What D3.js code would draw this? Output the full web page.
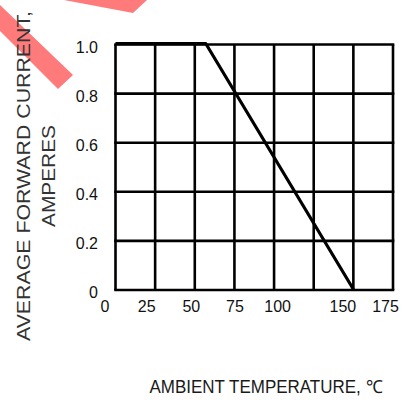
<!DOCTYPE html>
<html>
<head>
<meta charset="utf-8">
<script src="https://cdn.jsdelivr.net/npm/d3@7"></script>
<style>
  body { margin: 0; background: #fff; }
  svg { display: block; }
</style>
</head>
<body>
<svg class="derating"></svg>
<script>
// Total dimensions
var w = 404,
    h = 403;

// Data
var xGrid = [0, 25, 50, 75, 100, 125, 150, 175];
var xLabels = [0, 25, 50, 75, 100, 150, 175];
var yGrid = [0, 0.2, 0.4, 0.6, 0.8, 1.0];
var yLabels = ["0", "0.2", "0.4", "0.6", "0.8", "1.0"];
var tempC = [0, 57, 150];
var currentA = [1.0, 1.0, 0];

// label nudges (px) - the original labels sit a bit off the grid
var xLabelNudge = { 0: -11, 25: -9, 50: -4, 75: 0, 100: 3, 150: -11, 175: -8 };

var svg = d3.select(".derating")
    .attr("width", w)
    .attr("height", h);

// plot area
var plotLeft = 115.5, plotRight = 393, plotTop = 44.5, plotBottom = 290;

var xScale = d3.scaleLinear().domain([0, 175]).range([plotLeft, plotRight]);
var yScale = d3.scaleLinear().domain([0, 1]).range([plotBottom, plotTop]);

// red marks in the corner (watermark)
svg.append("polygon")
    .attr("points", "0,5 73,75 58,89 0,31")
    .attr("fill", "#ff7b7b");
svg.append("polygon")
    .attr("points", "64,0 147,0 133,13")
    .attr("fill", "#ff7b7b");

// grid
var g = svg.append("g");
g.selectAll(".vgrid")
    .data(xGrid)
    .enter().append("line")
    .attr("class", "vgrid")
    .attr("x1", function(d) { return xScale(d); })
    .attr("x2", function(d) { return xScale(d); })
    .attr("y1", yScale(0))
    .attr("y2", yScale(1))
    .attr("stroke", "#000")
    .attr("stroke-width", 2.6);

g.selectAll(".hgrid")
    .data(yGrid)
    .enter().append("line")
    .attr("class", "hgrid")
    .attr("x1", xScale(0) - 1.3)
    .attr("x2", xScale(175) + 1.3)
    .attr("y1", function(d) { return yScale(d); })
    .attr("y2", function(d) { return yScale(d); })
    .attr("stroke", "#000")
    .attr("stroke-width", 2.6);

// curve
var line = d3.line()
    .x(function(d) { return xScale(d[0]); })
    .y(function(d) { return yScale(d[1]); });

g.append("path")
    .datum(d3.zip(tempC, currentA))
    .attr("fill", "none")
    .attr("stroke", "#000")
    .attr("stroke-width", 3.2)
    .attr("stroke-linejoin", "round")
    .attr("d", line)
    .attr("transform", "translate(0,-0.8)");

// x axis labels
var xAxis = d3.axisBottom(xScale)
    .tickValues(xLabels)
    .tickSize(0)
    .tickPadding(0)
    .tickFormat(d3.format("d"));

var gx = svg.append("g")
    .attr("transform", "translate(0," + (plotBottom + 11) + ")")
    .call(xAxis);
gx.select(".domain").remove();
gx.selectAll("text")
    .attr("dx", function(d) { return xLabelNudge[d]; })
    .attr("font-family", "Liberation Sans, Arial, sans-serif")
    .attr("font-size", "16px")
    .attr("fill", "#111");

// y axis labels
var yAxis = d3.axisLeft(yScale)
    .tickValues(yGrid)
    .tickSize(0)
    .tickPadding(0)
    .tickFormat(function(d, i) { return yLabels[i]; });

var gy = svg.append("g")
    .attr("transform", "translate(98,2.5)")
    .call(yAxis);
gy.select(".domain").remove();
gy.selectAll("text")
    .attr("font-family", "Liberation Sans, Arial, sans-serif")
    .attr("font-size", "16px")
    .attr("fill", "#111");

// titles
svg.append("text")
    .attr("transform", "translate(30,176) rotate(-90)")
    .attr("text-anchor", "middle")
    .attr("font-family", "Liberation Sans, Arial, sans-serif")
    .attr("font-size", "18px")
    .attr("fill", "#333")
    .attr("textLength", 330)
    .attr("lengthAdjust", "spacingAndGlyphs")
    .text("AVERAGE FORWARD CURRENT,");

svg.append("text")
    .attr("transform", "translate(55,176) rotate(-90)")
    .attr("text-anchor", "middle")
    .attr("font-family", "Liberation Sans, Arial, sans-serif")
    .attr("font-size", "18px")
    .attr("fill", "#333")
    .attr("textLength", 102)
    .attr("lengthAdjust", "spacingAndGlyphs")
    .text("AMPERES");

svg.append("text")
    .attr("x", 266)
    .attr("y", 393)
    .attr("text-anchor", "middle")
    .attr("font-family", "Liberation Sans, Arial, sans-serif")
    .attr("font-size", "18px")
    .attr("fill", "#1a1a1a")
    .attr("textLength", 233)
    .attr("lengthAdjust", "spacingAndGlyphs")
    .text("AMBIENT TEMPERATURE, \u2103");
</script>
</body>
</html>
